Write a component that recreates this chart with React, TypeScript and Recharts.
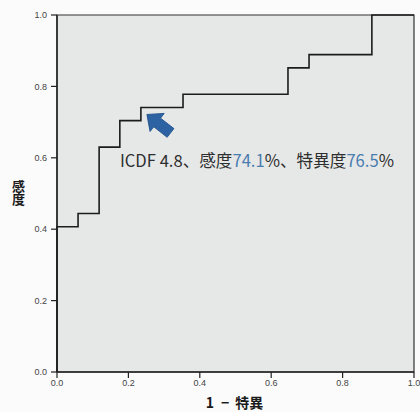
import React from "react";
import {
  LineChart,
  Line,
  XAxis,
  YAxis,
  ReferenceArea,
  ReferenceDot,
  Label,
} from "recharts";

// ROC curve corner points (1 - specificity, sensitivity)
const fpr = [0, 0, 0.059, 0.059, 0.118, 0.118, 0.176, 0.176, 0.235, 0.235, 0.353, 0.353, 0.647, 0.647, 0.706, 0.706, 0.882, 0.882, 1.0];
const tpr = [0, 0.407, 0.407, 0.444, 0.444, 0.63, 0.63, 0.704, 0.704, 0.741, 0.741, 0.778, 0.778, 0.852, 0.852, 0.889, 0.889, 1.0, 1.0];

const xTicks = [0, 0.2, 0.4, 0.6, 0.8, 1.0];
const yTicks = [0, 0.2, 0.4, 0.6, 0.8, 1.0];

// optimal cut-off annotation
const cutoffLabel = "4.8";
const sensitivityPct = 74.1;
const specificityPct = 76.5;

const xTitleParts = ["1", "−", "特異"];
const yTitle = "感度";

const rocData = fpr.map((x, i) => ({ fpr: x, tpr: tpr[i] }));

const TEXT = "#2e2e2e";
const BLUE_NUM = "#4a7cae";
const ARROW = "#2d63a3";
const CJK = "'Noto Sans CJK JP', 'Noto Sans', sans-serif";
const TICK_FONT = "'Liberation Sans', Arial, sans-serif";

const CutoffMarker = (props: any) => {
  const { cx, cy } = props;
  if (cx == null || cy == null) return null;
  return (
    <g>
      <g transform={`translate(${cx + 6},${cy + 7}) rotate(38)`}>
        <polygon
          points="0,0 13,-11.5 13,-5.5 30,-5.5 30,5.5 13,5.5 13,11.5"
          fill={ARROW}
          stroke="#1f4f8a"
          strokeWidth={0.8}
          strokeLinejoin="round"
        />
      </g>
      <text
        x={cx - 21}
        y={cy + 59.5}
        fontSize={16.6}
        fontFamily={CJK}
        fill={TEXT}
      >
        <tspan>{`ICDF ${cutoffLabel}、感度`}</tspan>
        <tspan fill={BLUE_NUM}>{sensitivityPct.toFixed(1)}</tspan>
        <tspan>%、特異度</tspan>
        <tspan fill={BLUE_NUM}>{specificityPct.toFixed(1)}</tspan>
        <tspan>%</tspan>
      </text>
    </g>
  );
};

const YTitle = (props: any) => {
  const vb = props.viewBox || {};
  const cx = vb.x + 1.5;
  const mid = vb.y + vb.height / 2 - 1;
  return (
    <text
      x={cx}
      y={mid}
      textAnchor="middle"
      fontSize={13}
      fontWeight="bold"
      fontFamily={CJK}
      fill="#1a1a1a"
      style={{ writingMode: "vertical-rl" as any }}
    >
      {yTitle}
    </text>
  );
};

const XTitle = (props: any) => {
  const vb = props.viewBox || {};
  return (
    <text
      x={vb.x + vb.width / 2 - 1}
      y={vb.y + 35.5}
      textAnchor="middle"
      fontSize={14}
      fontWeight="bold"
      fontFamily={CJK}
      fill="#1a1a1a"
    >
      <tspan>{xTitleParts[0]}</tspan>
      <tspan dx={7}>{xTitleParts[1]}</tspan>
      <tspan dx={6}>{xTitleParts[2]}</tspan>
    </text>
  );
};

const fmt = (v: number) => v.toFixed(1);

export default function App() {
  const annX = Number(((100 - specificityPct) / 100).toFixed(3));
  const annY = sensitivityPct / 100;
  return (
    <div style={{ position: "absolute", left: 0, top: 0, width: 420, height: 412, background: "#fbfbfb" }}>
      <LineChart
        width={420}
        height={412}
        data={rocData}
        margin={{ top: 15, right: 6, bottom: 0, left: 17 }}
      >
        <ReferenceArea
          x1={0}
          x2={1}
          y1={0}
          y2={1}
          fill="#e6e8e8"
          fillOpacity={1}
          stroke="#333"
          strokeWidth={1.2}
        />
        <XAxis
          type="number"
          dataKey="fpr"
          domain={[0, 1]}
          ticks={xTicks}
          tickFormatter={fmt}
          height={40}
          tickSize={6}
          tickMargin={2}
          axisLine={{ stroke: "#222", strokeWidth: 1.5 }}
          tickLine={{ stroke: "#222", strokeWidth: 1.2 }}
          tick={{ fontSize: 9, fill: "#444", fontFamily: TICK_FONT }}
          interval={0}
        >
          <Label content={<XTitle />} />
        </XAxis>
        <YAxis
          type="number"
          dataKey="tpr"
          domain={[0, 1]}
          ticks={yTicks}
          tickFormatter={fmt}
          width={40}
          tickSize={6}
          tickMargin={4}
          axisLine={{ stroke: "#222", strokeWidth: 1.5 }}
          tickLine={{ stroke: "#222", strokeWidth: 1.2 }}
          tick={{ fontSize: 9, fill: "#444", fontFamily: TICK_FONT }}
          interval={0}
        >
          <Label content={<YTitle />} />
        </YAxis>
        <Line
          type="linear"
          dataKey="tpr"
          stroke="#1c1c1c"
          strokeWidth={1.6}
          dot={false}
          activeDot={false}
          isAnimationActive={false}
        />
        <ReferenceDot x={annX} y={annY} r={0} shape={<CutoffMarker />} />
      </LineChart>
    </div>
  );
}
